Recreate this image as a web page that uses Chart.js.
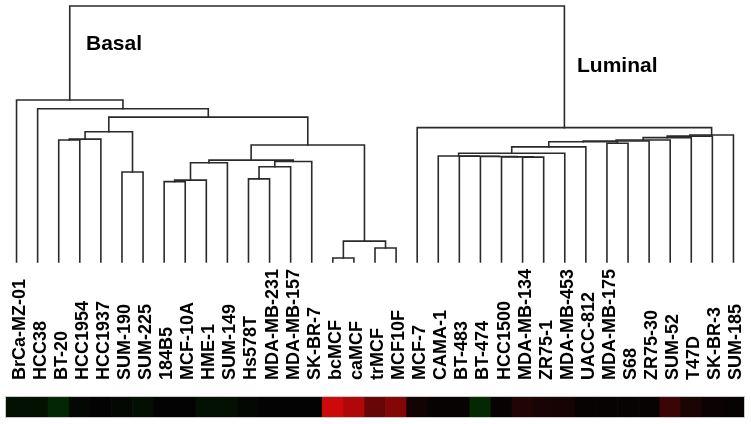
<!DOCTYPE html>
<html><head><meta charset="utf-8">
<script src="https://cdn.jsdelivr.net/npm/chart.js@4.4.0/dist/chart.umd.min.js"></script>
<style>html,body{margin:0;padding:0;background:#fff;}#wrap{width:751px;height:424px;position:relative;}</style>
</head><body><div id="wrap"><canvas id="c" width="751" height="424"></canvas></div>
<script>
// Leaf order (cell lines)
const leaves = ["BrCa-MZ-01","HCC38","BT-20","HCC1954","HCC1937","SUM-190","SUM-225","184B5","MCF-10A","HME-1","SUM-149","Hs578T","MDA-MB-231","MDA-MB-157","SK-BR-7","bcMCF","caMCF","trMCF","MCF10F","MCF-7","CAMA-1","BT-483","BT-474","HCC1500","MDA-MB-134","ZR75-1","MDA-MB-453","UACC-812","MDA-MB-175","S68","ZR75-30","SUM-52","T47D","SK-BR-3","SUM-185"];

// Merges (linkage): left child, right child, merge distance. "nK" = result of merge K.
const mergeLeft  = ["BT-20","n0","SUM-190","n1","184B5","n4","n5","Hs578T","n7","n8","n6","bcMCF","trMCF","n11","n10","n3","HCC38","BrCa-MZ-01",
                    "MDA-MB-134","HCC1500","BT-474","BT-483","CAMA-1","n22","n23","MDA-MB-175","n24","n26","n27","n28","n29","n30","MCF-7","n17"];
const mergeRight = ["HCC1954","HCC1937","SUM-225","n2","MCF-10A","HME-1","SUM-149","MDA-MB-231","MDA-MB-157","SK-BR-7","n9","caMCF","MCF10F","n12","n13","n14","n15","n16",
                    "ZR75-1","n18","n19","n20","n21","MDA-MB-453","UACC-812","S68","n25","ZR75-30","SUM-52","T47D","SK-BR-3","SUM-185","n31","n32"];
const mergeHeight = [0.477,0.480,0.352,0.509,0.314,0.320,0.388,0.325,0.372,0.393,0.398,0.016,0.055,0.082,0.457,0.566,0.599,0.633,
                     0.410,0.411,0.412,0.413,0.414,0.425,0.450,0.464,0.470,0.473,0.477,0.486,0.492,0.496,0.525,1.000];

// Heatmap row (signed expression; + red, - green)
const heatValues = [-0.06,-0.06,-0.16,-0.02,0,-0.02,-0.05,0,0,-0.06,-0.06,-0.02,0,0,0,
                    0.92,0.78,0.45,0.58,0.07,0.02,0.02,-0.17,0.02,0.13,0.09,0.08,0.02,0.02,0.02,0.02,0.25,0.1,0.03,0.02];

const groupLabels = ["Basal","Luminal"];

// ---- build datasets ----
const HEAT_TOP = -0.527, HEAT_BOT = -0.605;
const pos = {}, hgt = {};
leaves.forEach((n,i)=>{ pos[n]=i; hgt[n]=0; });
const linkSets = mergeLeft.map((l,k)=>{
  const r = mergeRight[k], h = mergeHeight[k];
  const d = [{x:pos[l],y:hgt[l]},{x:pos[l],y:h},{x:pos[r],y:h},{x:pos[r],y:hgt[r]}];
  pos['n'+k] = (pos[l]+pos[r])/2; hgt['n'+k] = h;
  return {type:'scatter', data:d, showLine:true, borderColor:'#2a2a2a', borderWidth:1.6,
          pointRadius:0, tension:0, clip:false, order:1, borderCapStyle:'square'};
});
function heatColor(v){
  const m = Math.min(1,Math.abs(v));
  const c = Math.round(m*220);
  return v>=0 ? `rgb(${c+4},${Math.round(c*0.03)+3},${Math.round(c*0.03)+3})` : `rgb(3,${c+4},3)`;
}
const heatSet = {type:'bar', data: heatValues.map((v,i)=>({x:i, y:[HEAT_BOT, HEAT_TOP]})),
  backgroundColor: heatValues.map(heatColor), borderWidth:0, barPercentage:1, categoryPercentage:1, order:2};

const textPlugin = {
  id:'texts',
  afterDatasetsDraw(chart){
    const ctx = chart.ctx, xs = chart.scales.x, ys = chart.scales.y;
    ctx.save();
    ctx.fillStyle = '#000';
    ctx.font = 'bold 18px "Liberation Sans", Arial, sans-serif';
    ctx.textAlign = 'left'; ctx.textBaseline = 'alphabetic';
    const yBase = ys.getPixelForValue(HEAT_TOP) - 17;
    leaves.forEach((n,i)=>{
      const x = xs.getPixelForValue(i) + 8;
      ctx.save(); ctx.translate(x, yBase); ctx.rotate(-Math.PI/2); ctx.fillText(n, 0, 0); ctx.restore();
    });
    ctx.font = 'bold 21px "Liberation Sans", Arial, sans-serif';
    ctx.fillText(groupLabels[0], 86, 50);
    ctx.fillText(groupLabels[1], 577, 72);
    // light frame of heatmap
    ctx.strokeStyle = '#c8c8c8'; ctx.lineWidth = 1;
    const x0 = xs.getPixelForValue(-0.5), x1 = xs.getPixelForValue(leaves.length-0.5);
    const y0 = ys.getPixelForValue(HEAT_TOP), y1 = ys.getPixelForValue(HEAT_BOT);
    ctx.strokeRect(x0-0.5, y0-0.5, x1-x0+1, y1-y0+1);
    ctx.restore();
  }
};

new Chart(document.getElementById('c'), {
  type:'scatter',
  data:{ datasets:[...linkSets, heatSet] },
  options:{
    responsive:false, animation:false, devicePixelRatio:1,
    layout:{padding:{left:6,right:7,top:6,bottom:7}},
    plugins:{legend:{display:false}, tooltip:{enabled:false}},
    scales:{
      x:{type:'linear', min:-0.5, max:leaves.length-0.5, offset:false, display:false},
      y:{type:'linear', min:HEAT_BOT, max:1.0, display:false}
    }
  },
  plugins:[textPlugin]
});
</script></body></html>
